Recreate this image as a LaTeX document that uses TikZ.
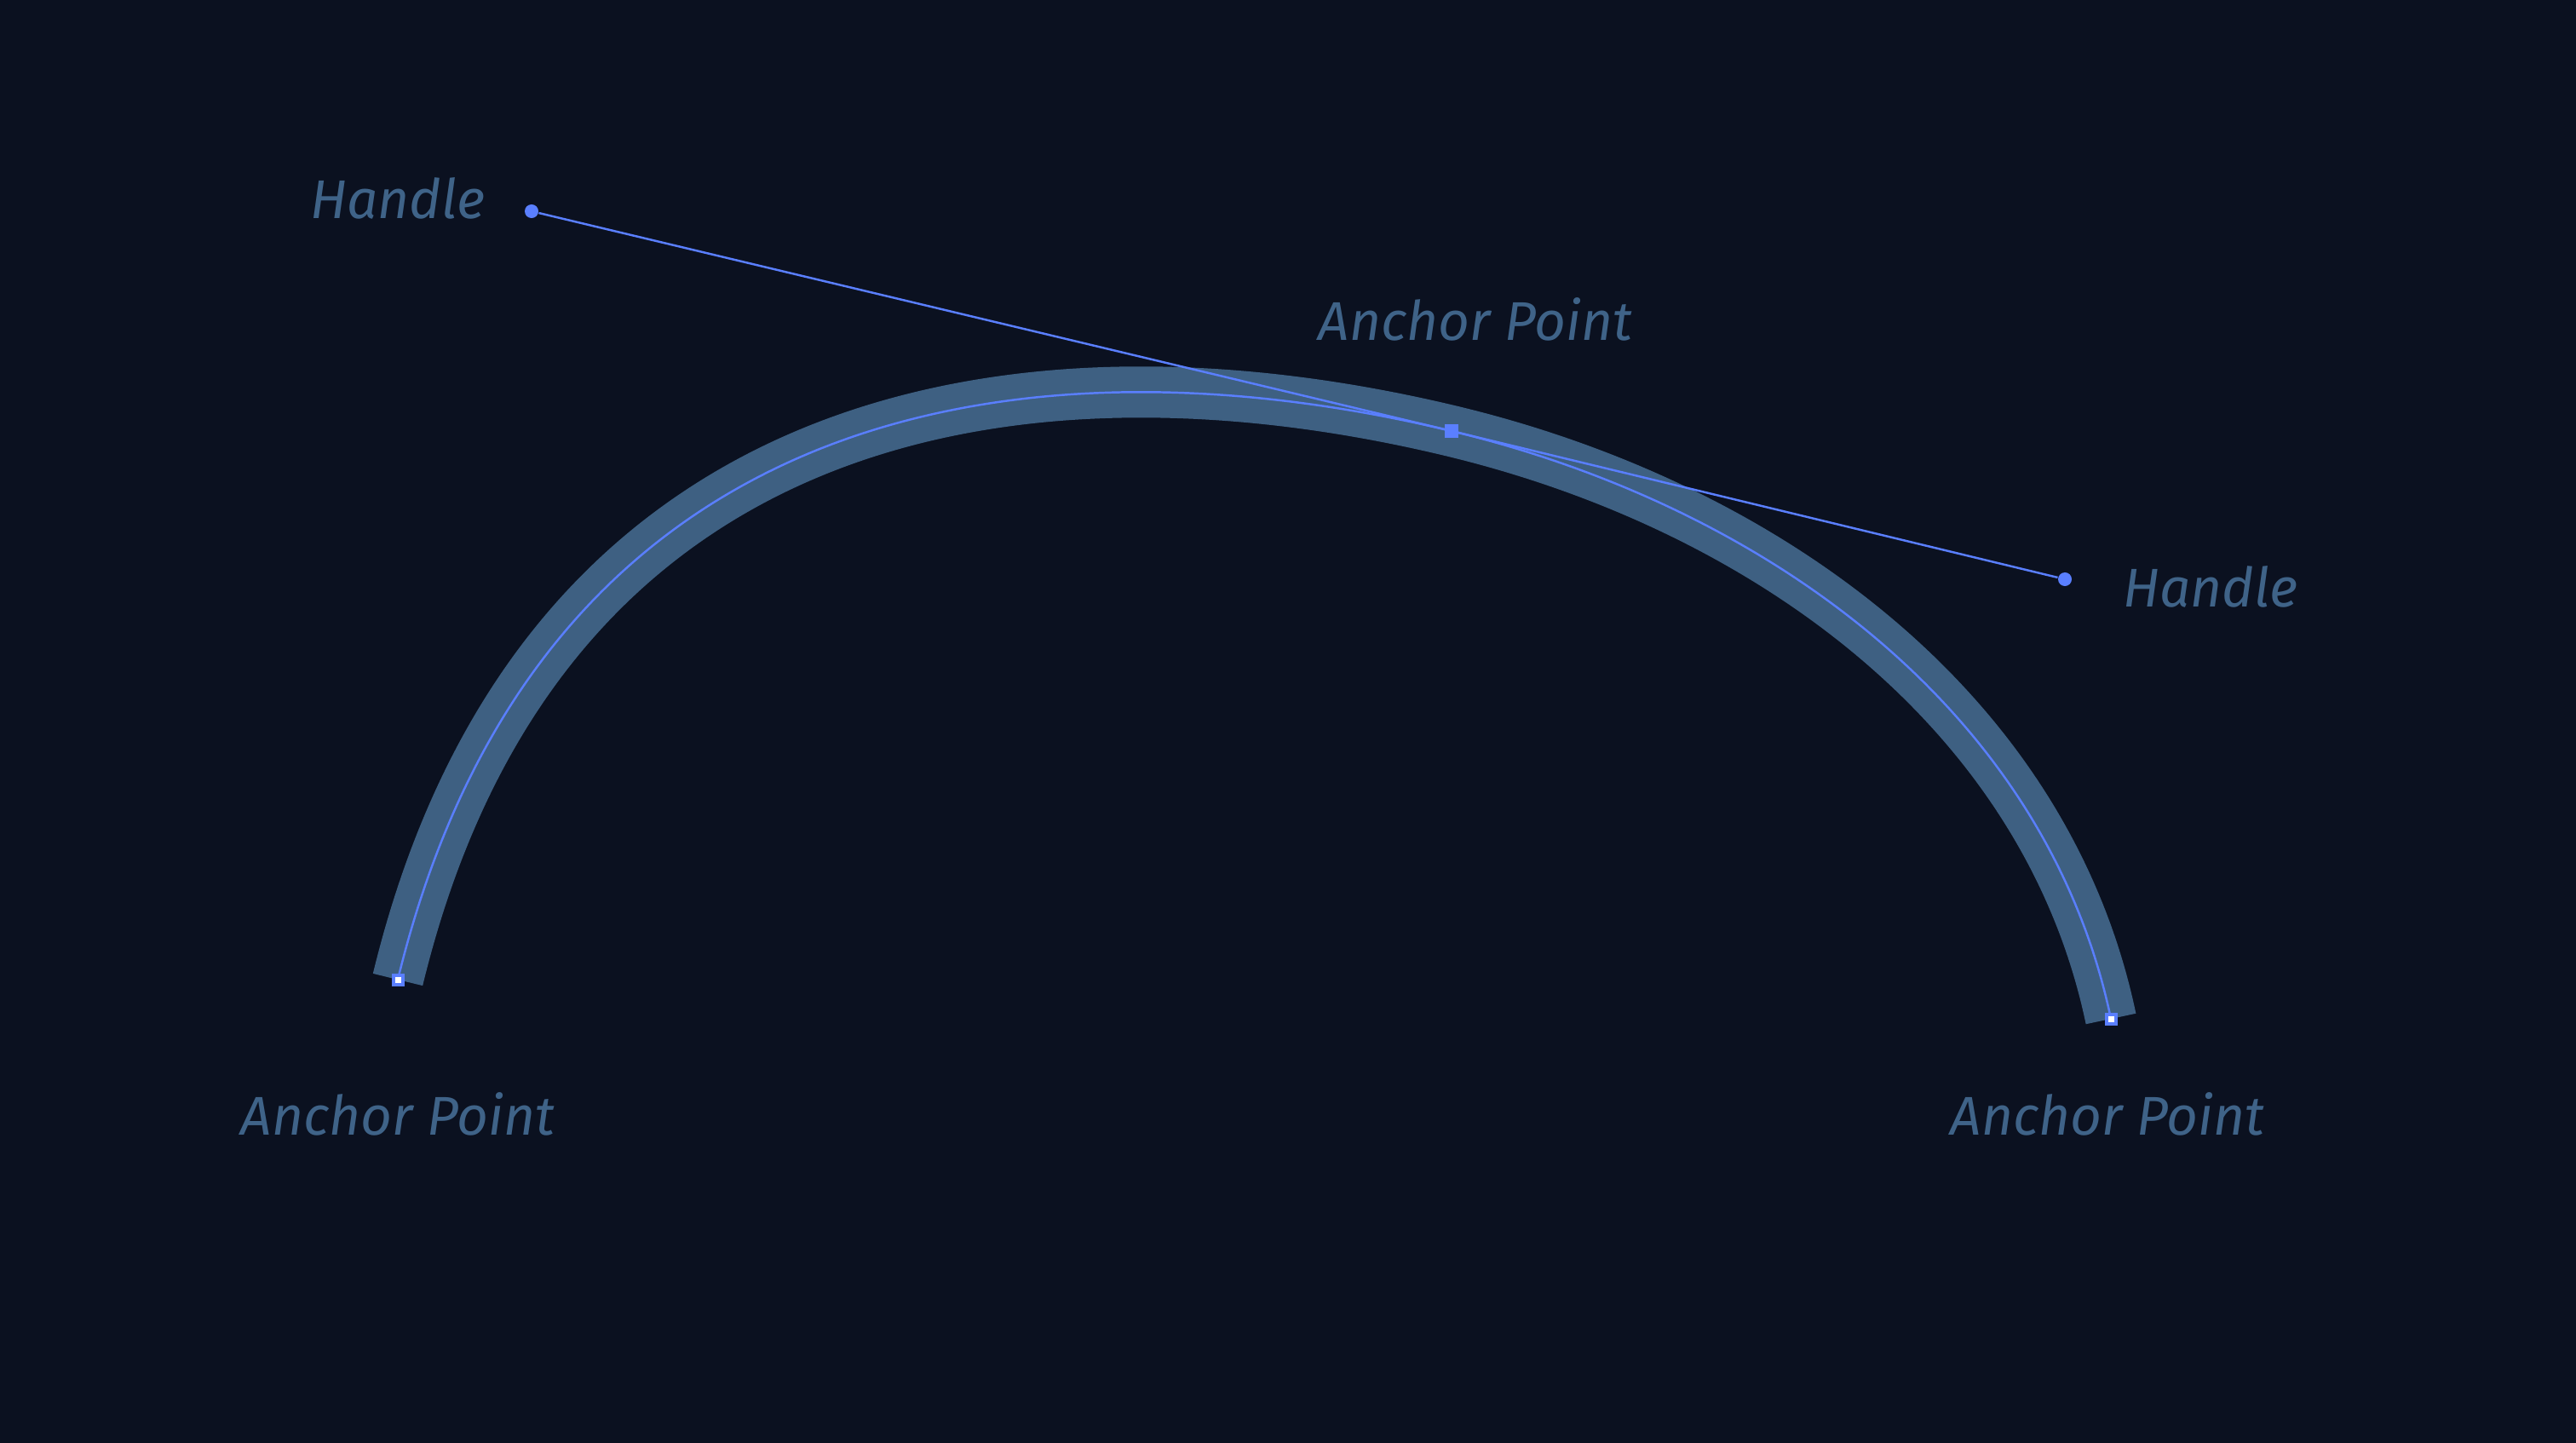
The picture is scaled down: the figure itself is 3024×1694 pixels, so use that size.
\documentclass[tikz,border=0pt]{standalone}
\usepackage{fontspec}
\setmainfont{Fira Sans}
\definecolor{bgnavy}{HTML}{0B1120}
\definecolor{bandblue}{HTML}{3E6082}
\definecolor{penblue}{HTML}{5A7FFF}
\definecolor{textblue}{HTML}{3F6388}

\begin{document}
\begin{tikzpicture}[x=0.01cm,y=-0.01cm,
  endpt/.style={draw=penblue,fill=white,line width=0.04cm,rectangle,inner sep=0pt,minimum size=0.11cm},
  midpt/.style={fill=penblue,rectangle,inner sep=0pt,minimum size=0.16cm},
  handledot/.style={fill=penblue,circle,inner sep=0pt,minimum size=0.16cm},
  tag/.style={text=textblue,inner sep=0pt,anchor=base,font=\itshape\fontsize{18.2}{22}\selectfont}]
\fill[bgnavy] (0,0) rectangle (3024,1694);
\useasboundingbox (0,0) rectangle (3024,1694);

% anchor points and their curve controls
\coordinate (a) at (467,1150);
\coordinate (m) at (1704,506);
\coordinate (b) at (2478,1196);

% the stroke and its path
\draw[bandblue,line width=0.6cm] (a) .. controls (632,470) and (1204,386) .. (m)
  .. controls (2074,595) and (2402,834) .. (b);
\draw[penblue,line width=0.7pt] (a) .. controls (632,470) and (1204,386) .. (m)
  .. controls (2074,595) and (2402,834) .. (b);

\node [handledot] (h1) at (624,248) {};
\node [handledot] (h2) at (2424,680) {};
\draw[penblue,line width=0.7pt] (h1) -- (m) -- (h2);

\node [endpt] (an1) at (a) {};
\node [midpt] (an2) at (m) {};
\node [endpt] (an3) at (b) {};

\node [tag] (t1) at (467,257) {Handle};
\node [tag] (t2) at (2595,712) {Handle};
\node [tag] (t3) at (1732,399) {Anchor Point};
\node [tag] (t4) at (467,1332) {Anchor Point};
\node [tag] (t5) at (2474,1332) {Anchor Point};

\end{tikzpicture}
\end{document}
